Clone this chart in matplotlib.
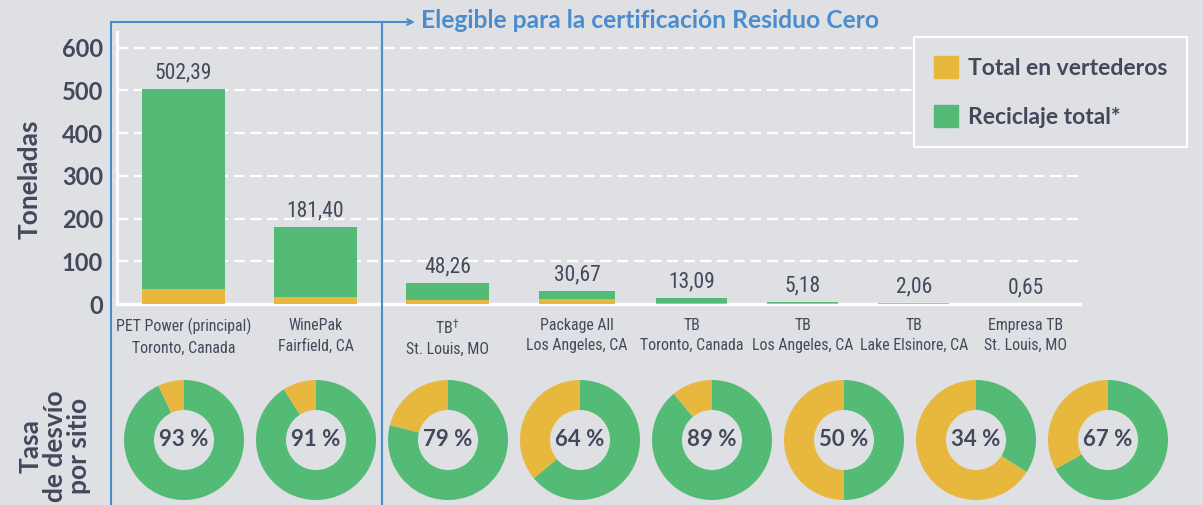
import matplotlib
matplotlib.use("Agg")
import matplotlib.pyplot as plt
from matplotlib.lines import Line2D
from matplotlib.patches import Patch

# data
sites = ["PET Power (principal)\nToronto, Canada", "WinePak\nFairfield, CA",
         "TB$^{\\dagger}$\nSt. Louis, MO", "Package All\nLos Angeles, CA",
         "TB\nToronto, Canada", "TB\nLos Angeles, CA",
         "TB\nLake Elsinore, CA", "Empresa TB\nSt. Louis, MO"]
totals = [502.39, 181.40, 48.26, 30.67, 13.09, 5.18, 2.06, 0.65]
landfill = [35.2, 16.3, 10.1, 11.0, 1.4, 2.6, 1.4, 0.2]
recycled = [467.2, 165.1, 38.2, 19.6, 11.7, 2.6, 0.7, 0.4]
diversion = [93, 91, 79, 64, 89, 50, 34, 67]
yticks = [0, 100, 200, 300, 400, 500, 600]

# layout
bar_pos = [0, 1, 2, 2.98, 3.85, 4.69, 5.53, 6.38]
bar_w = [0.63, 0.63, 0.63, 0.58, 0.54, 0.54, 0.54, 0.54]

BG = "#dfe0e4"
GREEN = "#54bb76"
YELLOW = "#e8b73e"
TEXT = "#45475b"
BLUE = "#4b8ccd"
BOLD = ["Lato", "DejaVu Sans"]
NARROW = ["Liberation Sans Narrow", "Roboto Condensed", "DejaVu Sans"]

W, H = 1203, 505
fig = plt.figure(figsize=(W / 100, H / 100), dpi=100, facecolor=BG)

ax = fig.add_axes([117 / W, 1 - 304 / H, (1080 - 117) / W, (304 - 32) / H])
ax.set_facecolor(BG)
ax.bar(bar_pos, landfill, width=bar_w, color=YELLOW, zorder=3)
ax.bar(bar_pos, recycled, width=bar_w, bottom=landfill, color=GREEN, zorder=3)
for x, t in zip(bar_pos, totals):
    ax.annotate(f"{t:.2f}".replace(".", ","), (x, t), xytext=(0, 4),
                textcoords="offset points", ha="center", va="bottom",
                fontsize=15.5, color=TEXT, family=NARROW)

ax.set_xlim(-0.504, 6.79)
ax.set_ylim(0, 637)
ax.set_yticks(yticks)
ax.set_yticklabels([str(v) for v in yticks], fontsize=17, fontweight="bold",
                   color=TEXT, family=BOLD)
ax.set_xticks(bar_pos)
ax.set_xticklabels(sites, fontsize=11.4, color=TEXT, family=NARROW, linespacing=1.45)
ax.tick_params(axis="both", length=0)
ax.tick_params(axis="y", pad=10)
ax.tick_params(axis="x", pad=10)
for v in yticks[1:]:
    ax.axhline(v, color="white", lw=1.6, ls=(0, (5, 2.5)), zorder=1)
for s in ["top", "right"]:
    ax.spines[s].set_visible(False)
ax.spines["left"].set_color("white")
ax.spines["left"].set_linewidth(2.2)
ax.spines["bottom"].set_color("white")
ax.spines["bottom"].set_linewidth(2.5)
fig.text(30 / W, 1 - 179 / H, "Toneladas", rotation=90, ha="center", va="center",
         fontsize=19, fontweight="bold", color=TEXT, family=BOLD)

leg = ax.legend(handles=[Patch(color=YELLOW, label="Total en vertederos"),
                         Patch(color=GREEN, label="Reciclaje total*")],
                loc="upper right", bbox_to_anchor=(1187 / W, 1 - 37 / H),
                bbox_transform=fig.transFigure, fancybox=False,
                facecolor=BG, edgecolor="white", framealpha=1,
                prop={"family": BOLD, "size": 16.5, "weight": "bold"},
                handlelength=1.05, handleheight=1.05, labelspacing=1.15,
                borderpad=0.85, handletextpad=0.45, borderaxespad=0)
leg.get_frame().set_linewidth(1.5)
for t in leg.get_texts():
    t.set_color(TEXT)

# blue bracket for the eligible sites
y_top = 1 - 22 / H
fig.add_artist(Line2D([111 / W, 111 / W], [0, y_top], color=BLUE, lw=1.5))
fig.add_artist(Line2D([382 / W, 382 / W], [0, y_top], color=BLUE, lw=1.5))
fig.add_artist(Line2D([111 / W, 382 / W], [y_top, y_top], color=BLUE, lw=1.5))
fig.add_artist(plt.Annotation("", xy=(415 / W, y_top), xytext=(382 / W, y_top),
                              xycoords="figure fraction",
                              arrowprops=dict(arrowstyle="->", color=BLUE, lw=1.5,
                                              shrinkA=0, shrinkB=0)))
fig.text(421 / W, 1 - 20 / H, "Elegible para la certificación Residuo Cero",
         fontsize=17.7, fontweight="bold", color=BLUE, family=BOLD,
         ha="left", va="center")

# diversion donuts
for i, p in enumerate(diversion):
    cx, cy, r = 184 + 132 * i, 440, 60
    dax = fig.add_axes([(cx - r) / W, (H - cy - r) / H, 2 * r / W, 2 * r / H])
    dax.pie([p, 100 - p], colors=[GREEN, YELLOW], startangle=90, counterclock=False,
            radius=1, wedgeprops=dict(width=0.5, linewidth=0))
    dax.set_xlim(-1, 1)
    dax.set_ylim(-1, 1)
    dax.set_aspect("equal")
    dax.axis("off")
    dax.text(0, 0, f"{p} %", ha="center", va="center", fontsize=16,
             fontweight="bold", color=TEXT, family=BOLD)

fig.text(55 / W, 1 - 446 / H, "Tasa\nde desvío\npor sitio", rotation=90,
         ha="center", va="center", multialignment="center", fontsize=19,
         fontweight="bold", color=TEXT, family=BOLD, linespacing=1.0)

fig.savefig("out.png", dpi=100, facecolor=BG)
